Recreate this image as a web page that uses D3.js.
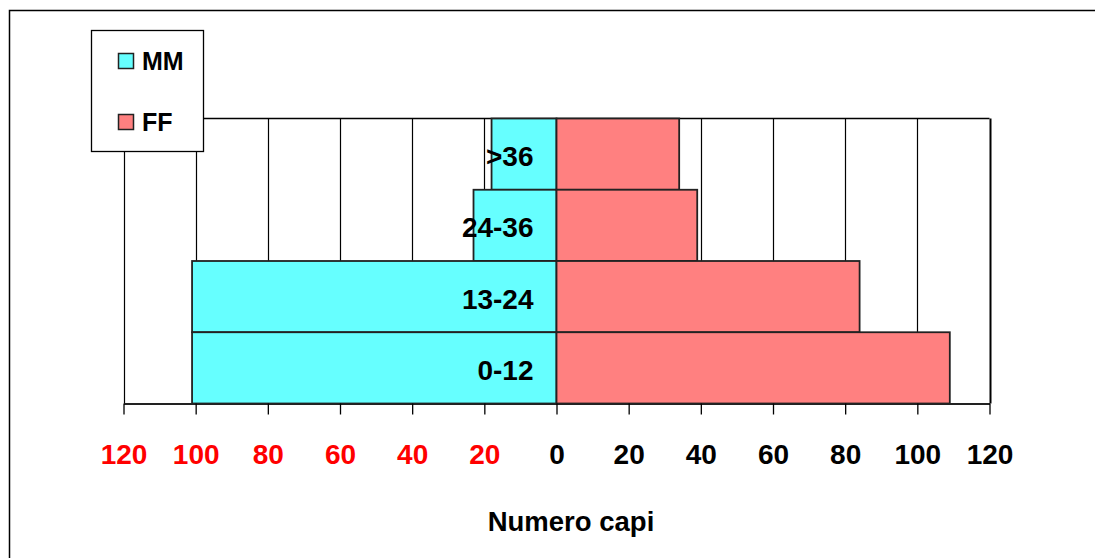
<!DOCTYPE html>
<html>
<head>
<meta charset="utf-8">
<script src="https://cdn.jsdelivr.net/npm/d3@7"></script>
<style>
  html, body { margin: 0; padding: 0; background: #fff; }
  svg { display: block; font-family: "Liberation Sans", Arial, sans-serif; font-weight: bold; }
</style>
</head>
<body>
<svg id="chart" width="1095" height="558"></svg>
<script>
// eta in mesi (dall'alto verso il basso)
const categories = [">36", "24-36", "13-24", "0-12"];
const maschi = [18, 23, 101, 101];
const femmine = [34, 39, 84, 109];
const xTicks = [-120, -100, -80, -60, -40, -20, 0, 20, 40, 60, 80, 100, 120];
const seriesNames = ["MM", "FF"];
const seriesColors = ["#66FFFF", "#FF8080"];

const svg = d3.select("#chart");
const plot = { left: 123.5, right: 989.5, top: 118.5, bottom: 403.5 };

const x = d3.scaleLinear().domain([-120, 120]).range([plot.left, plot.right]);
const y = d3.scaleBand().domain(categories).range([plot.top, plot.bottom]).padding(0);

// cornice esterna (esce dalla finestra a destra e in basso)
svg.append("rect")
  .attr("x", 9.5).attr("y", 10.5)
  .attr("width", 1200).attr("height", 700)
  .attr("fill", "#fff").attr("stroke", "#000").attr("stroke-width", 1.5);

// griglia verticale
svg.append("g")
  .selectAll("line")
  .data(xTicks)
  .join("line")
  .attr("x1", (d) => Math.round(x(d)) + 0.5)
  .attr("x2", (d) => Math.round(x(d)) + 0.5)
  .attr("y1", plot.top)
  .attr("y2", plot.bottom)
  .attr("stroke", "#000")
  .attr("stroke-width", (d) => (d === 120 ? 2 : 1.2));

svg.append("line")
  .attr("x1", plot.left).attr("x2", plot.right)
  .attr("y1", plot.top).attr("y2", plot.top)
  .attr("stroke", "#000").attr("stroke-width", 1.5);

const rows = categories.map((c, i) => ({ cat: c, mm: maschi[i], ff: femmine[i] }));

const bars = svg.append("g");
bars.selectAll(".mm")
  .data(rows)
  .join("rect")
  .attr("class", "mm")
  .attr("x", (d) => x(-d.mm))
  .attr("y", (d) => y(d.cat))
  .attr("width", (d) => x(0) - x(-d.mm))
  .attr("height", y.bandwidth())
  .attr("fill", seriesColors[0])
  .attr("stroke", "#222").attr("stroke-width", 1.8);

bars.selectAll(".ff")
  .data(rows)
  .join("rect")
  .attr("class", "ff")
  .attr("x", x(0))
  .attr("y", (d) => y(d.cat))
  .attr("width", (d) => x(d.ff) - x(0))
  .attr("height", y.bandwidth())
  .attr("fill", seriesColors[1])
  .attr("stroke", "#222").attr("stroke-width", 1.8);

// asse x
const axisX = svg.append("g")
  .attr("transform", `translate(0,${plot.bottom})`)
  .call(
    d3.axisBottom(x)
      .tickValues(xTicks)
      .tickSize(11)
      .tickSizeOuter(0)
      .tickFormat((d) => Math.abs(d))
  );
axisX.select(".domain").attr("stroke", "#222").attr("stroke-width", 2);
axisX.selectAll(".tick line").attr("stroke", "#000").attr("stroke-width", 1.3);
axisX.selectAll(".tick text")
  .attr("dy", null)
  .attr("y", 60)
  .attr("font-size", 28)
  .attr("font-weight", "bold")
  .attr("font-family", "Liberation Sans, Arial, sans-serif")
  .attr("fill", (d) => (d < 0 ? "#FF0000" : "#000"));

// etichette categorie
svg.append("g")
  .selectAll("text")
  .data(categories)
  .join("text")
  .attr("x", x(0) - 23)
  .attr("y", (d) => y(d) + y.bandwidth() / 2 + 12)
  .attr("text-anchor", "end")
  .attr("font-size", 28)
  .attr("fill", "#000")
  .text((d) => d);

// titolo asse
svg.append("text")
  .attr("x", 571)
  .attr("y", 531)
  .attr("text-anchor", "middle")
  .attr("font-size", 27.5)
  .text("Numero capi");

// legenda
const legend = svg.append("g");
legend.append("rect")
  .attr("x", 91.5).attr("y", 30.5)
  .attr("width", 112).attr("height", 121)
  .attr("fill", "#fff").attr("stroke", "#000").attr("stroke-width", 1.3);

const item = legend.selectAll(".item")
  .data(seriesNames)
  .join("g")
  .attr("class", "item")
  .attr("transform", (d, i) => `translate(0,${[61, 122][i]})`);

item.append("rect")
  .attr("x", 118.5).attr("y", -7.5)
  .attr("width", 15).attr("height", 15)
  .attr("fill", (d, i) => seriesColors[i])
  .attr("stroke", "#222").attr("stroke-width", 1.5);

item.append("text")
  .attr("x", 142)
  .attr("y", 9)
  .attr("font-size", 25)
  .text((d) => d);
</script>
</body>
</html>
